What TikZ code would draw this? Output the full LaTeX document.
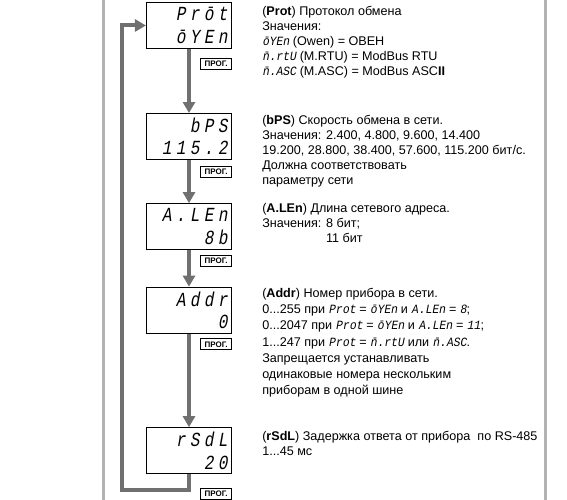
\documentclass[tikz,border=0pt]{standalone}
\usepackage{fontspec}
\setmainfont{Liberation Sans}
\newfontfamily\segfont[FakeSlant=0.18,FakeStretch=0.8,LetterSpace=22]{Liberation Mono}
\newfontfamily\segsmall[FakeSlant=0.18,FakeStretch=0.9]{Liberation Mono}
\usetikzlibrary{arrows.meta,positioning}

\definecolor{arrowgray}{RGB}{112,112,112}
\definecolor{railgray}{RGB}{178,178,178}
\newcommand{\segtxt}[1]{{\segsmall #1}}

\begin{document}
\begin{tikzpicture}[x=1pt,y=1pt,>={Triangle[width=12pt,length=11pt]},
	flow/.style={->,draw=arrowgray,line width=4pt,color=arrowgray},
	rail/.style={draw=railgray,line width=3pt}]
	\tikzstyle{disp}=[draw,line width=1.1pt,minimum height=46pt,text width=77pt,
	  inner xsep=4pt,inner ysep=1pt,align=right,
	  font=\segfont\fontsize{20}{22.5}\selectfont]
	\tikzstyle{prog}=[draw,line width=1pt,inner sep=0pt,minimum width=31pt,
	  minimum height=11pt,font=\bfseries\fontsize{8}{8}\selectfont]
	\tikzstyle{desc}=[inner sep=0pt,align=left,font=\fontsize{12.6}{15}\selectfont]
	\useasboundingbox (0,0) rectangle (567,500);

	% side rails
	\draw[rail] (103,0) -- (103,500);
	\draw[rail] (545,0) -- (545,500);

	% displays
	\node[disp] (prot) at (189,474.5) {Prōt\\ōYEn};
	\node[disp] (bps)  [below=64pt of prot]   {bPS\\115.2};
	\node[disp] (alen) [below=43pt of bps]    {A.LEn\\8b};
	\node[disp] (addr) [below=36.4pt of alen] {Addr\\0};
	\node[disp] (rsdl) [below=93.4pt of addr] {rSdL\\20};

	% key labels
	\node[prog] (kprot) [below left=9pt and 0pt of prot.south east]    {ПРОГ.};
	\node[prog] (kbps)  [below left=5.5pt and 0pt of bps.south east]   {ПРОГ.};
	\node[prog] (kalen) [below left=4.5pt and 0pt of alen.south east]  {ПРОГ.};
	\node[prog] (kaddr) [below left=4.5pt and 0pt of addr.south east]  {ПРОГ.};
	\node[prog] (krsdl) [below left=13.5pt and 0pt of rsdl.south east] {ПРОГ.};

	% descriptions
	\node[desc] (tprot) [below right=4pt and 30pt of prot.north east]
	  {(\textbf{Prot}) Протокол обмена\\
	   Значения:\\
	   \segtxt{ōYEn} (Owen) = ОВЕН\\
	   \segtxt{\={n}.rtU} (M.RTU) = ModBus RTU\\
	   \segtxt{\={n}.ASC} (M.ASC) = ModBus ASC\textbf{II}};
	\node[desc] (tbps) [below right=2pt and 30pt of bps.north east]
	  {(\textbf{bPS}) Скорость обмена в сети.\\
	   Значения: 2.400, 4.800, 9.600, 14.400\\
	   19.200, 28.800, 38.400, 57.600, 115.200 бит/с.\\
	   Должна соответствовать\\
	   параметру сети};
	\node[desc] (talen) [below right=0pt and 30pt of alen.north east]
	  {(\textbf{A.LEn}) Длина сетевого адреса.\\
	   Значения: 8 бит;\\
	   \phantom{Значения: }11 бит};
	\node[desc,font=\fontsize{12.6}{16.2}\selectfont] (taddr)
	  [below right=1.5pt and 30pt of addr.north east]
	  {(\textbf{Addr}) Номер прибора в сети.\\
	   0...255 при \segtxt{Prot} = \segtxt{ōYEn} и \segtxt{A.LEn} = \segtxt{8};\\
	   0...2047 при \segtxt{Prot} = \segtxt{ōYEn} и \segtxt{A.LEn} = \segtxt{11};\\
	   1...247 при \segtxt{Prot} = \segtxt{\={n}.rtU} или \segtxt{\={n}.ASC}.\\
	   Запрещается устанавливать\\
	   одинаковые номера нескольким\\
	   приборам в одной шине};
	\node[desc] (trsdl) [below right=4pt and 30pt of rsdl.north east]
	  {(\textbf{rSdL}) Задержка ответа от прибора\ \ по RS-485\\
	   1...45 мс};

	% flow between parameters
	\coordinate (back) at (122,10);
	\path[flow] (prot) edge (bps);
	\path[flow] (bps) edge (alen);
	\path[flow] (alen) edge (addr);
	\path[flow] (addr) edge (rsdl);
	\draw[flow] (rsdl.south) |- (back) |- (prot.west);
\end{tikzpicture}
\end{document}
